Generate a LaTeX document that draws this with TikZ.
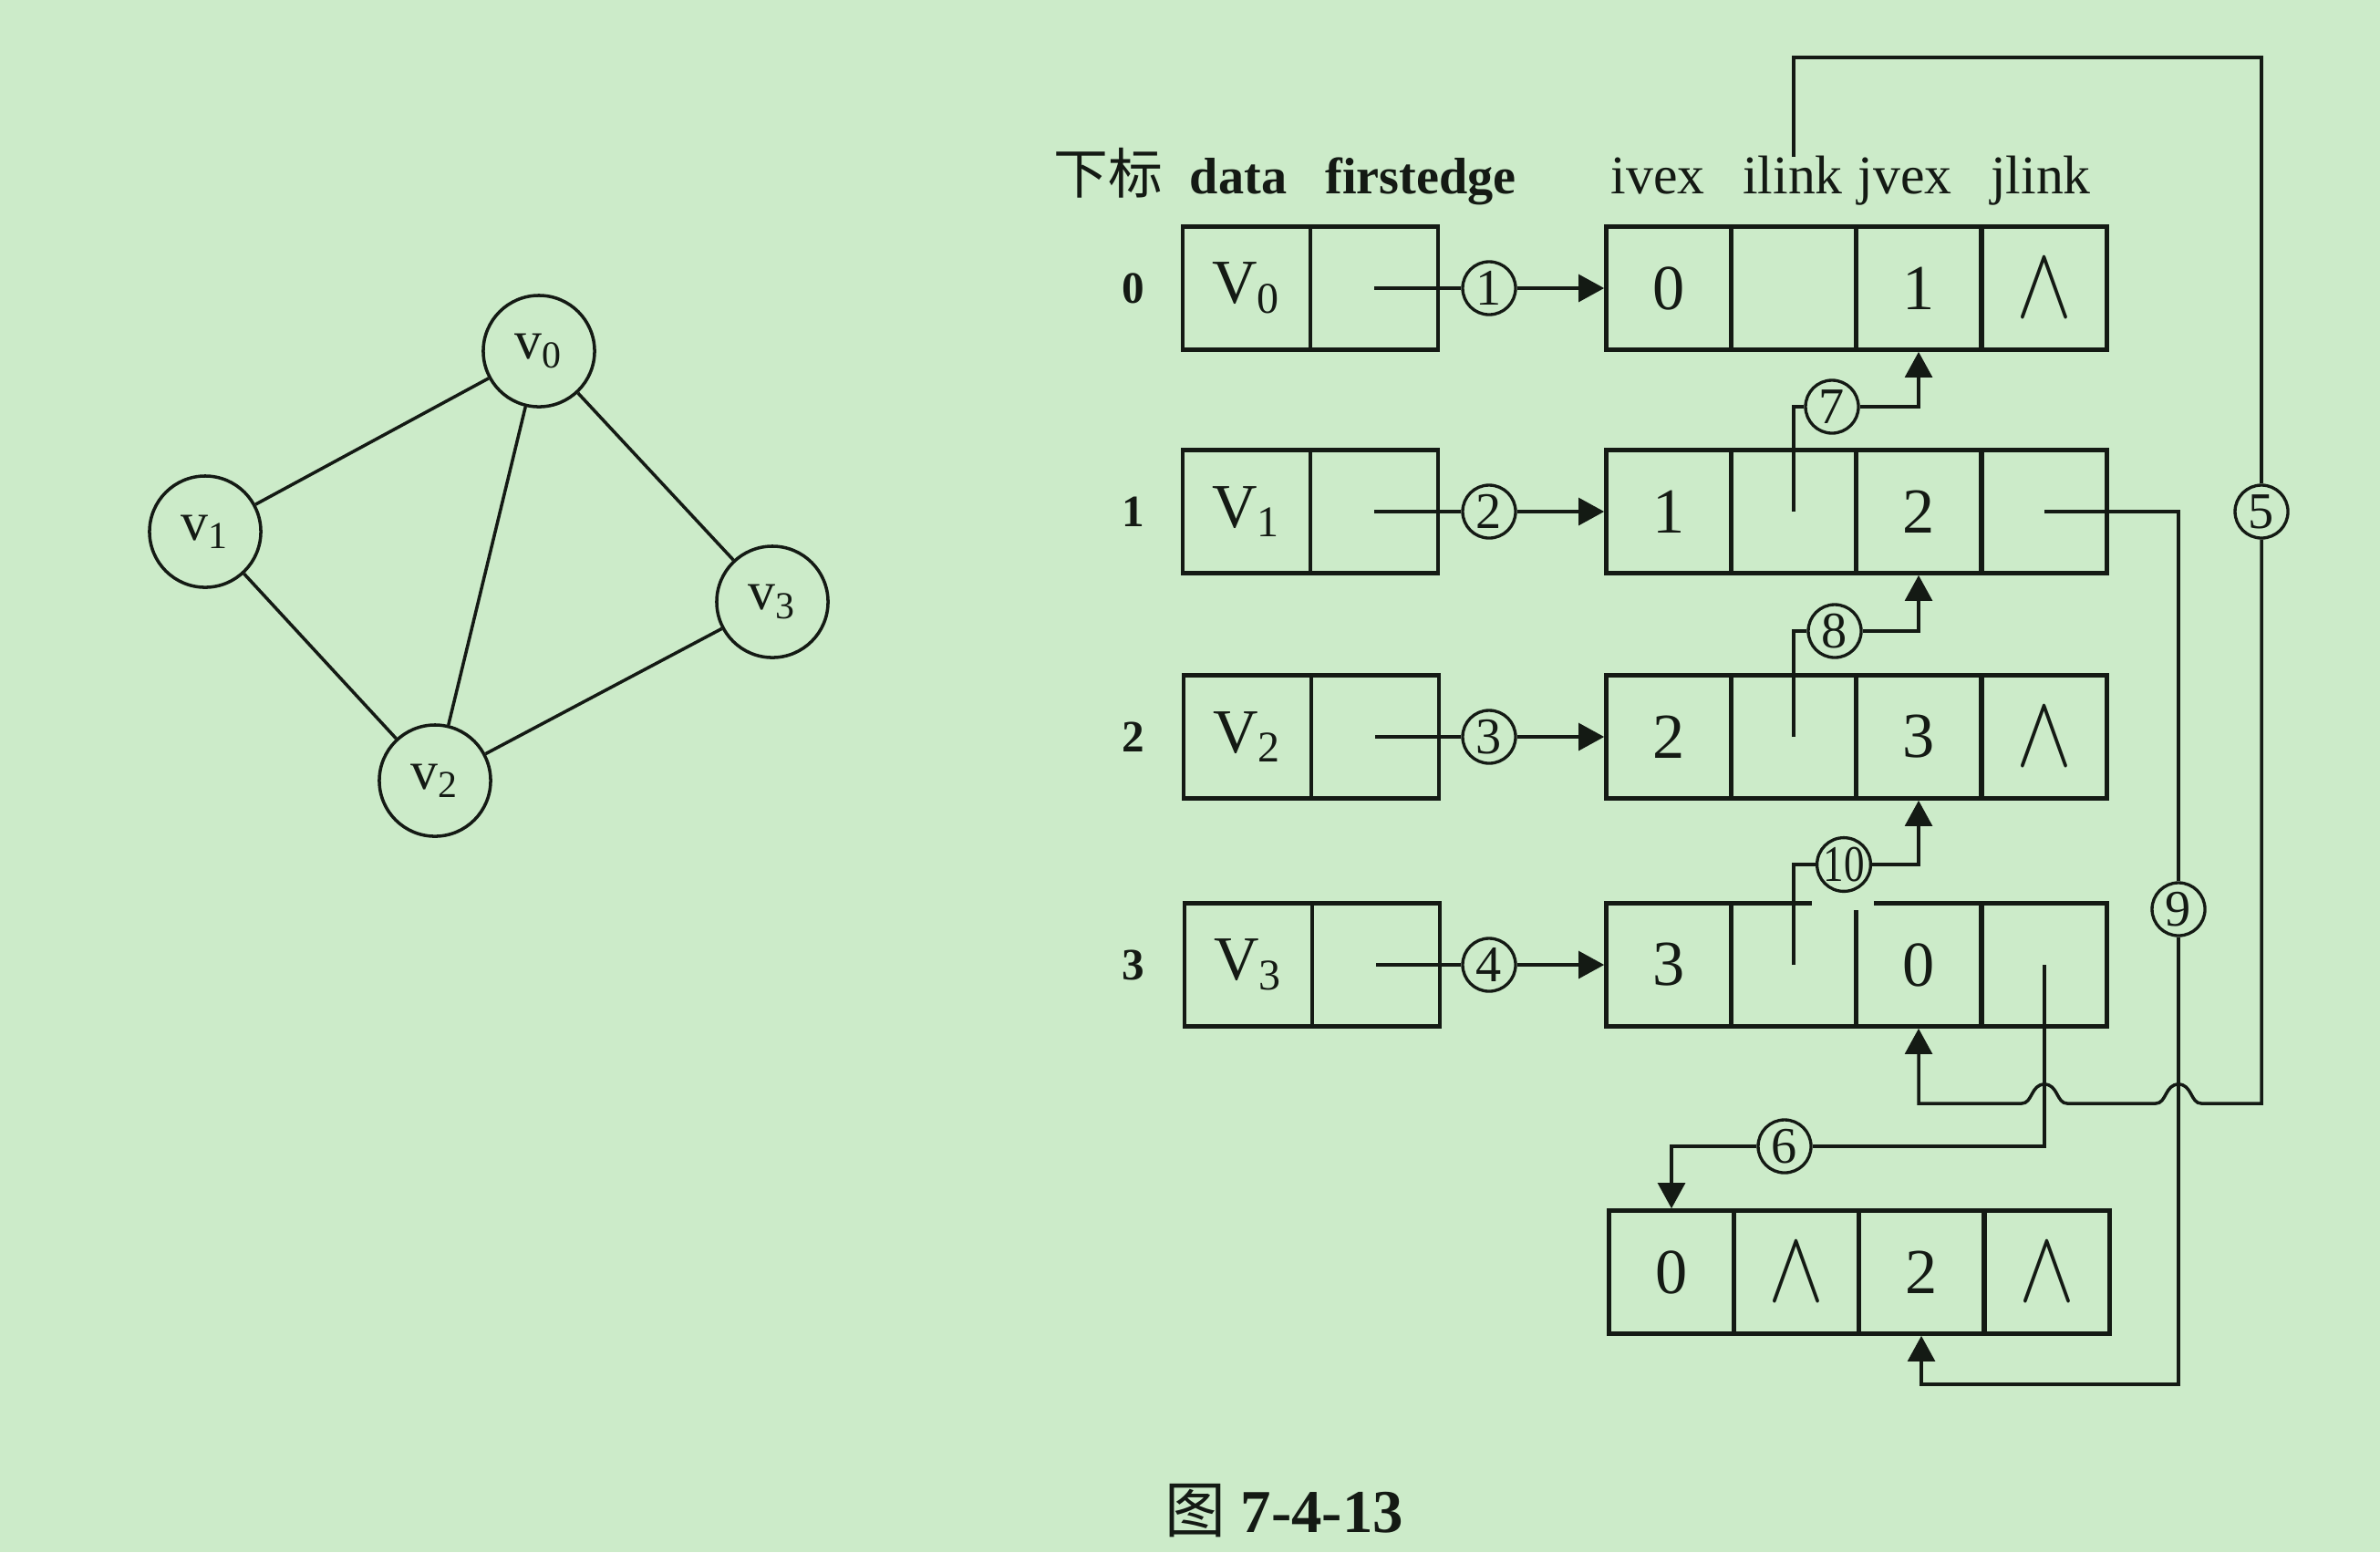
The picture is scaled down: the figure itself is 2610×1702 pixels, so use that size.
\documentclass[tikz,border=0pt]{standalone}
\usepackage{fontspec}
\setmainfont{Liberation Serif}
\newfontfamily\cjk{Noto Sans CJK SC}
\usetikzlibrary{arrows.meta}
\definecolor{bg}{RGB}{204,235,201}
\definecolor{ink}{RGB}{20,26,20}
\newcommand{\nullp}{{\fontsize{10}{10}\selectfont\scalebox{2.6}[3.2]{$\wedge$}}}
\tikzset{
  cellv/.style={draw=ink, line width=1.3pt, minimum width=1.40cm, minimum height=1.35cm, inner sep=0pt, text=ink, font=\fontsize{19.5}{22}\selectfont},
  celle/.style={draw=ink, line width=1.3pt, minimum width=1.37cm, minimum height=1.35cm, inner sep=0pt, text=ink, font=\fontsize{20}{22}\selectfont},
  num/.style={circle, draw=ink, line width=0.95pt, minimum size=0.58cm, inner sep=0pt, text=ink, font=\fontsize{16}{16}\selectfont},
  gv/.style={circle, draw=ink, line width=1.0pt, minimum size=1.22cm, inner sep=0pt, text=ink, font=\fontsize{17}{18}\selectfont},
  conn/.style={draw=ink, line width=1.0pt},
  arr/.style={-{Triangle[length=8pt,width=8.5pt]}},
  hdr/.style={anchor=base, font=\fontsize{17}{20}\selectfont, inner sep=0pt, text=ink},
  hdrb/.style={anchor=base, font=\fontsize{16}{20}\selectfont\bfseries, inner sep=0pt, text=ink},
  idx/.style={font=\fontsize{14}{16}\selectfont\bfseries, inner sep=0pt, text=ink},
  capt/.style={font=\fontsize{19}{22}\selectfont\bfseries, inner sep=0pt, text=ink},
}
\begin{document}
\begin{tikzpicture}[x=0.01cm, y=-0.01cm]
\useasboundingbox (0,0) rectangle (2610,1702);
\fill[bg] (0,0) rectangle (2610,1702);

% ---------- graph ----------
\node[gv] (g0) at (591,385) {v\textsubscript{0}};
\node[gv] (g1) at (225,583) {v\textsubscript{1}};
\node[gv] (g2) at (477,856) {v\textsubscript{2}};
\node[gv] (g3) at (847,660) {v\textsubscript{3}};
\draw[conn] (g0) -- (g1);
\draw[conn] (g0) -- (g2);
\draw[conn] (g0) -- (g3);
\draw[conn] (g1) -- (g2);
\draw[conn] (g2) -- (g3);

% ---------- headers ----------
\node[hdr] (h0) at (1215,212) {\cjk 下标};
\node[hdrb] (h1) at (1358,212) {data};
\node[hdrb] (h2) at (1558,212) {firstedge};
\node[hdr] (h3) at (1818,212) {ivex};
\node[hdr] (h4) at (1966,212) {ilink};
\node[hdr] (h5) at (2089,212) {jvex};
\node[hdr] (h6) at (2238,212) {jlink};

% ---------- vertex array ----------
\node[idx] (i0) at (1243,316) {0};
\node[idx] (i1) at (1243,561) {1};
\node[idx] (i2) at (1243,808) {2};
\node[idx] (i3) at (1243,1058) {3};
\node[cellv] (v0d) at (1367,316) {V\textsubscript{0}};
\node[cellv] (v0f) at (1507,316) {};
\node[cellv] (v1d) at (1367,561) {V\textsubscript{1}};
\node[cellv] (v1f) at (1507,561) {};
\node[cellv] (v2d) at (1368,808) {V\textsubscript{2}};
\node[cellv] (v2f) at (1508,808) {};
\node[cellv] (v3d) at (1369,1058) {V\textsubscript{3}};
\node[cellv] (v3f) at (1509,1058) {};

% ---------- edge nodes ----------
\node[celle] (e0a) at (1830,316) {0};
\node[celle] (e0b) at (1967,316) {};
\node[celle] (e0c) at (2104,316) {1};
\node[celle] (e0d) at (2242,316) {\nullp};

\node[celle] (e1a) at (1830,561) {1};
\node[celle] (e1b) at (1967,561) {};
\node[celle] (e1c) at (2104,561) {2};
\node[celle] (e1d) at (2242,561) {};

\node[celle] (e2a) at (1830,808) {2};
\node[celle] (e2b) at (1967,808) {};
\node[celle] (e2c) at (2104,808) {3};
\node[celle] (e2d) at (2242,808) {\nullp};

\node[celle] (e3a) at (1830,1058) {3};
\node[celle] (e3b) at (1967,1058) {};
\node[celle] (e3c) at (2104,1058) {0};
\node[celle] (e3d) at (2242,1058) {};

\node[celle] (e4a) at (1833,1395) {0};
\node[celle] (e4b) at (1970,1395) {\nullp};
\node[celle] (e4c) at (2107,1395) {2};
\node[celle] (e4d) at (2245,1395) {\nullp};

% gap in the top line of row 3 under circle 10
\fill[bg] (1987,983) rectangle (2055,998);

% ---------- circled numbers ----------
\node[num] (c1) at (1633,316) {1};
\node[num] (c2) at (1633,561) {2};
\node[num] (c3) at (1633,808) {3};
\node[num] (c4) at (1633,1058) {4};
\node[num] (c5) at (2480,561) {5};
\node[num] (c6) at (1957,1257) {6};
\node[num] (c7) at (2009,446) {7};
\node[num] (c8) at (2012,692) {8};
\node[num] (c9) at (2389,997) {9};
\node[num] (c10) at (2022,948) {\scalebox{0.8}[1]{10}};

% ---------- connectors ----------
\draw[conn] (v0f.center) -- (c1);
\draw[conn,arr] (c1) -- (e0a.west);
\draw[conn] (v1f.center) -- (c2);
\draw[conn,arr] (c2) -- (e1a.west);
\draw[conn] (v2f.center) -- (c3);
\draw[conn,arr] (c3) -- (e2a.west);
\draw[conn] (v3f.center) -- (c4);
\draw[conn,arr] (c4) -- (e3a.west);

\draw[conn] (e1b.center) |- (c7);
\draw[conn,arr] (c7) -| (e0c.south);
\draw[conn] (e2b.center) |- (c8);
\draw[conn,arr] (c8) -| (e1c.south);
\draw[conn] (e3b.center) |- (c10);
\draw[conn,arr] (c10) -| (e2c.south);

% 9
\coordinate (p9) at (2389,1518);
\draw[conn] (e1d.center) -| (c9);
\draw[conn,arr] (c9) -- (p9) -| (e4c.south);

% 6
\draw[conn] (e3d.center) |- (c6);
\draw[conn,arr] (c6) -| (e4a.north);

% 5
\coordinate (t5) at (1967,172);
\coordinate (k5a) at (1967,63);
\coordinate (k5b) at (2480,63);
\coordinate (k5c) at (2480,1210);
\coordinate (k5d) at (2104,1210);
\draw[conn] (t5) -- (k5a) -- (k5b) -- (c5);
\draw[conn,arr] (c5) -- (k5c) -- (2414,1210)
  .. controls (2402,1210) and (2404,1189) .. (2389,1189)
  .. controls (2374,1189) and (2376,1210) .. (2364,1210)
  -- (2267,1210)
  .. controls (2255,1210) and (2257,1189) .. (2242,1189)
  .. controls (2227,1189) and (2229,1210) .. (2217,1210)
  -- (k5d) -- (e3c.south);

% ---------- caption ----------
\node[capt] (cap) at (1408,1657) {{\mdseries\cjk 图} 7-4-13};
\end{tikzpicture}
\end{document}
